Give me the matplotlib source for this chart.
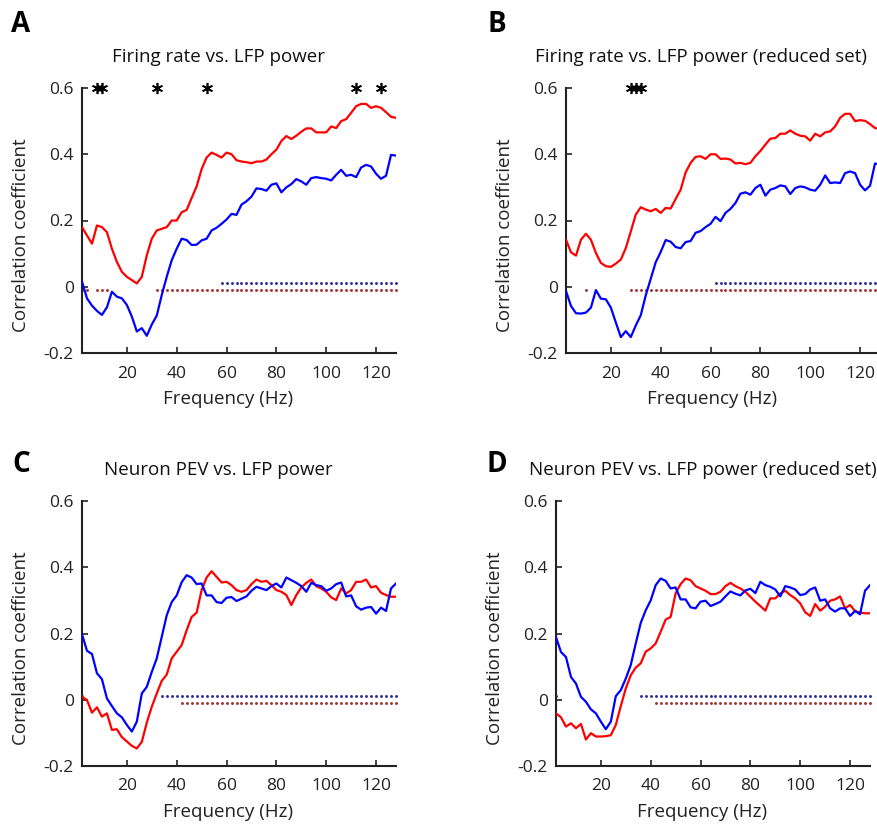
import matplotlib
matplotlib.use("Agg")
import matplotlib.pyplot as plt
import numpy as np

plt.rcParams["font.family"] = ["Open Sans", "DejaVu Sans"]

freq = np.arange(2, 129, 2)

# panel A: firing rate vs LFP power
a_red = [0.18, 0.155, 0.13, 0.185, 0.18, 0.165, 0.115, 0.075, 0.045, 0.03,
         0.02, 0.01, 0.03, 0.095, 0.145, 0.17, 0.175, 0.18, 0.2, 0.2,
         0.225, 0.232, 0.268, 0.303, 0.355, 0.39, 0.405, 0.398, 0.39, 0.405,
         0.4, 0.382, 0.378, 0.376, 0.373, 0.378, 0.378, 0.384, 0.4, 0.414,
         0.44, 0.455, 0.446, 0.456, 0.468, 0.478, 0.478, 0.466, 0.466, 0.466,
         0.484, 0.479, 0.5, 0.506, 0.525, 0.545, 0.552, 0.552, 0.54, 0.545,
         0.54, 0.527, 0.513, 0.51]
a_blue = [0.015, -0.035, -0.057, -0.073, -0.085, -0.062, -0.015, -0.03, -0.035, -0.055,
          -0.09, -0.135, -0.125, -0.148, -0.114, -0.087, -0.025, 0.03, 0.08, 0.115,
          0.145, 0.141, 0.126, 0.127, 0.14, 0.145, 0.17, 0.178, 0.19, 0.203,
          0.22, 0.217, 0.248, 0.258, 0.272, 0.297, 0.295, 0.29, 0.308, 0.312,
          0.285, 0.3, 0.31, 0.325, 0.318, 0.308, 0.328, 0.331, 0.328, 0.326,
          0.321, 0.338, 0.353, 0.335, 0.338, 0.331, 0.36, 0.368, 0.363, 0.341,
          0.326, 0.335, 0.398, 0.396]

# panel B: reduced set
b_red = [0.142, 0.104, 0.094, 0.142, 0.16, 0.142, 0.102, 0.072, 0.062, 0.06,
         0.07, 0.082, 0.117, 0.167, 0.218, 0.24, 0.233, 0.228, 0.235, 0.223,
         0.238, 0.236, 0.265, 0.293, 0.345, 0.374, 0.392, 0.394, 0.386, 0.4,
         0.4, 0.386, 0.387, 0.384, 0.372, 0.374, 0.37, 0.374, 0.394, 0.41,
         0.429, 0.447, 0.449, 0.462, 0.462, 0.472, 0.462, 0.456, 0.454, 0.441,
         0.462, 0.454, 0.466, 0.469, 0.484, 0.51, 0.522, 0.522, 0.5, 0.503,
         0.501, 0.491, 0.479, 0.477]
b_blue = [-0.013, -0.058, -0.08, -0.081, -0.078, -0.063, -0.01, -0.036, -0.038, -0.063,
          -0.108, -0.152, -0.134, -0.152, -0.117, -0.086, -0.026, 0.024, 0.074, 0.105,
          0.141, 0.136, 0.12, 0.116, 0.135, 0.138, 0.163, 0.168, 0.18, 0.19,
          0.211, 0.198, 0.223, 0.235, 0.253, 0.281, 0.285, 0.278, 0.298, 0.308,
          0.275, 0.293, 0.298, 0.306, 0.303, 0.28, 0.298, 0.303, 0.3, 0.293,
          0.29, 0.308, 0.336, 0.313, 0.315, 0.313, 0.343, 0.348, 0.343, 0.308,
          0.291, 0.305, 0.372, 0.369]

# panel C: neuron PEV vs LFP power
c_red = [0.009, -0.001, -0.039, -0.023, -0.051, -0.041, -0.091, -0.089, -0.113, -0.126,
         -0.139, -0.147, -0.127, -0.069, -0.021, 0.019, 0.057, 0.076, 0.125, 0.145,
         0.165, 0.21, 0.25, 0.263, 0.331, 0.369, 0.388, 0.371, 0.354, 0.356,
         0.346, 0.331, 0.326, 0.331, 0.349, 0.363, 0.356, 0.359, 0.346, 0.331,
         0.326, 0.316, 0.286, 0.316, 0.339, 0.353, 0.363, 0.343, 0.336, 0.326,
         0.309, 0.301, 0.336, 0.321, 0.331, 0.356, 0.356, 0.363, 0.339, 0.343,
         0.323, 0.316, 0.311, 0.311]
c_blue = [0.198, 0.148, 0.138, 0.08, 0.062, 0.004, -0.019, -0.041, -0.053, -0.076,
          -0.096, -0.066, 0.019, 0.039, 0.084, 0.125, 0.19, 0.255, 0.295, 0.315,
          0.355, 0.376, 0.369, 0.349, 0.351, 0.315, 0.315, 0.295, 0.292, 0.308,
          0.31, 0.298, 0.305, 0.312, 0.329, 0.341, 0.336, 0.331, 0.343, 0.351,
          0.339, 0.369, 0.361, 0.353, 0.343, 0.326, 0.353, 0.346, 0.343, 0.329,
          0.336, 0.349, 0.354, 0.312, 0.315, 0.282, 0.272, 0.278, 0.28, 0.26,
          0.278, 0.268, 0.336, 0.351]

# panel D: reduced set
d_red = [-0.041, -0.053, -0.081, -0.071, -0.086, -0.073, -0.12, -0.101, -0.111, -0.111,
         -0.11, -0.107, -0.076, -0.019, 0.034, 0.074, 0.097, 0.11, 0.145, 0.155,
         0.17, 0.205, 0.242, 0.25, 0.321, 0.349, 0.366, 0.361, 0.343, 0.336,
         0.329, 0.319, 0.319, 0.326, 0.343, 0.353, 0.343, 0.336, 0.326, 0.311,
         0.296, 0.283, 0.269, 0.306, 0.306, 0.321, 0.329, 0.316, 0.306, 0.291,
         0.264, 0.253, 0.289, 0.269, 0.281, 0.299, 0.303, 0.312, 0.276, 0.286,
         0.268, 0.263, 0.261, 0.261]
d_blue = [0.189, 0.144, 0.129, 0.069, 0.049, 0.009, -0.006, -0.029, -0.041, -0.066,
          -0.089, -0.066, 0.011, 0.029, 0.064, 0.105, 0.17, 0.232, 0.27, 0.3,
          0.346, 0.366, 0.359, 0.336, 0.339, 0.303, 0.303, 0.279, 0.276, 0.296,
          0.299, 0.283, 0.289, 0.296, 0.312, 0.327, 0.32, 0.315, 0.33, 0.335,
          0.322, 0.356, 0.346, 0.341, 0.333, 0.312, 0.343, 0.339, 0.333, 0.316,
          0.319, 0.333, 0.339, 0.299, 0.303, 0.276, 0.266, 0.276, 0.276, 0.253,
          0.268, 0.258, 0.329, 0.346]

# significant frequency ranges (start, end) in Hz, 2 Hz bins
a_sig_blue = [(58, 128)]
a_sig_red = [(2, 4), (8, 12), (32, 128)]
b_sig_blue = [(62, 128)]
b_sig_red = [(10, 10), (28, 128)]
c_sig_blue = [(2, 2), (34, 128)]
c_sig_red = [(42, 128)]
d_sig_blue = [(2, 2), (36, 128)]
d_sig_red = [(42, 128)]

# frequencies where red and blue differ
a_stars = [8, 10, 32, 52, 112, 122]
b_stars = [28, 30, 32]
c_stars = []
d_stars = []

titles = ["Firing rate vs. LFP power", "Firing rate vs. LFP power (reduced set)",
          "Neuron PEV vs. LFP power", "Neuron PEV vs. LFP power (reduced set)"]
letters = ["A", "B", "C", "D"]

W, H = 878, 826
fig = plt.figure(figsize=(W / 100, H / 100), dpi=100)


def px_axes(left, top, right, bottom):
    return fig.add_axes([left / W, 1 - bottom / H, (right - left) / W, (bottom - top) / H])


def expand(ranges):
    out = []
    for s, e in ranges:
        out.extend(range(s, e + 1, 2))
    return out


panels = [
    (px_axes(82, 88, 396, 353), a_red, a_blue, a_sig_red, a_sig_blue, a_stars),
    (px_axes(566, 88, 880, 353), b_red, b_blue, b_sig_red, b_sig_blue, b_stars),
    (px_axes(82, 501, 396, 766), c_red, c_blue, c_sig_red, c_sig_blue, c_stars),
    (px_axes(556, 501, 870, 766), d_red, d_blue, d_sig_red, d_sig_blue, d_stars),
]

for ax, red, blue, sig_r, sig_b, stars in panels:
    ax.plot(freq, red, color="#ff0000", lw=1.6, zorder=3)
    ax.plot(freq, blue, color="#0000ff", lw=1.6, zorder=3)
    sb = expand(sig_b)
    sr = expand(sig_r)
    ax.plot(sb, [0.01] * len(sb), ls="none", marker="o", ms=2.1, color="#2e2e9a",
            mew=0, zorder=2, clip_on=False)
    ax.plot(sr, [-0.01] * len(sr), ls="none", marker="o", ms=2.1, color="#a33131",
            mew=0, zorder=2, clip_on=False)
    if stars:
        ax.plot(stars, [0.6] * len(stars), ls="none", marker=(6, 2, 0), ms=8,
                mew=1.2, color="black", clip_on=False, zorder=4)
    ax.set_xlim(2, 128)
    ax.set_ylim(-0.2, 0.6)
    ax.set_xticks([20, 40, 60, 80, 100, 120])
    ax.set_yticks([-0.2, 0, 0.2, 0.4, 0.6])
    ax.set_yticklabels(["-0.2", "0", "0.2", "0.4", "0.6"])
    for side in ["top", "right"]:
        ax.spines[side].set_visible(False)
    for side in ["left", "bottom"]:
        ax.spines[side].set_linewidth(1.5)
        ax.spines[side].set_color("#222222")
    ax.tick_params(direction="in", length=4, width=1.2, labelsize=12.5,
                   colors="#222222", pad=6)
    ax.tick_params(axis="x", pad=9)
    ax.set_xlabel("Frequency (Hz)", fontsize=13.5, color="#222222")
    ax.set_ylabel("Correlation coefficient", fontsize=13.5, color="#222222")
    ax.xaxis.set_label_coords(0.465, -0.14)
    ax.yaxis.set_label_coords(-0.165, 0.445)

# titles and panel letters
title_pos = [(219, 57), (701, 57), (218, 470), (703, 470)]
letter_pos = [(21, 25), (497, 25), (21, 465), (497, 465)]
for t, (x, y) in zip(titles, title_pos):
    fig.text(x / W, 1 - y / H, t, ha="center", va="center", fontsize=13.5, color="#111111")
for l, (x, y) in zip(letters, letter_pos):
    fig.text(x / W, 1 - y / H, l, ha="center", va="center", fontsize=20,
             fontweight="bold", color="black")

fig.savefig("out.png", dpi=100)
